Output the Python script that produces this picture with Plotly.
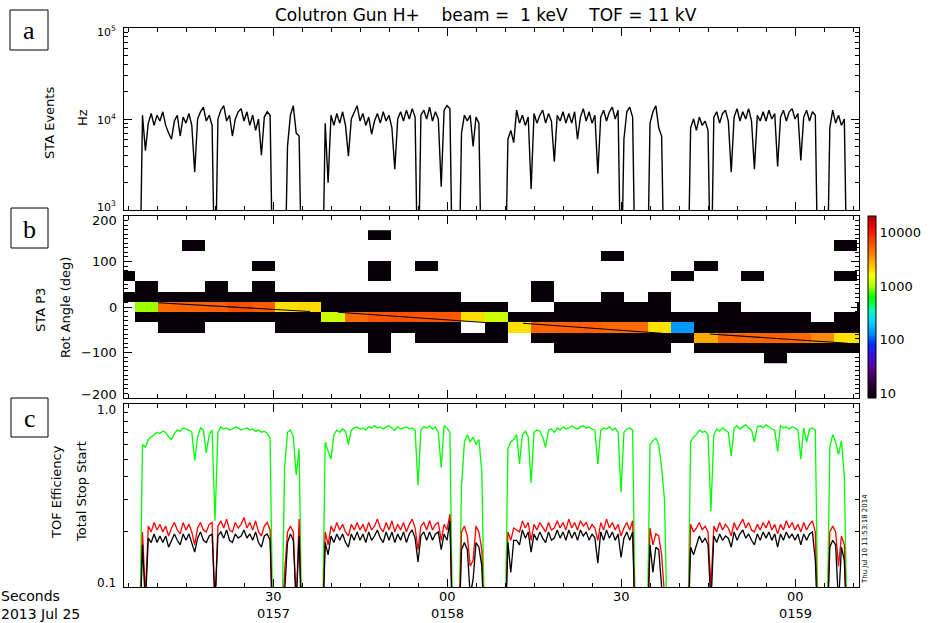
import math
import plotly.graph_objects as go

N = None
LA = 0.1    # kHz, beam off: below the 10^3 Hz floor
LC = 0.05   # efficiency, beam off: below the 0.1 floor
K = 9       # counts in the faint (black) spectrogram cells

# sample clock of the time series (seconds after 01:57:00, 2013 Jul 25)
SAMPLE_START_S = 4.5
SAMPLE_STEP_S = 0.5

# ---- panel a : STA events (kHz) ----
STA_EVENTS_KHZ = [
    N, N, N, N, N, LA, 11, 4.5, 9, 11.5,
    8.5, 11, 9.5, 12, 8.5, 7, 6, 9.5, 11, 6.5,
    10.5, 9, 11.5, 8.5, 2.6, 10, 12, 13.5, 9.5, 11,
    8.5, LA, 10, 12.5, 14, 9.5, 11, 6.5, 10, 12,
    13, 9.5, 12, 8.5, 11, 7.5, 10, 4, 10.5, 12,
    11, LA, N, N, N, LA, 5, 11, 14, 7,
    6.5, LA, N, N, N, N, N, N, LA, 9,
    2.0, 11, 8.5, 11.5, 9, 12, 8.5, 3.9, 10, 12,
    14, 9.5, 11.5, 8.5, 10.5, 6.8, 9.5, 11.5, 9, 12,
    9.5, 11, 8, 2.8, 10, 12, 9.5, 12.5, 10, 13,
    10.5, LA, 11, 12.5, 10, 13.5, 9.5, 12, 10, 1.8,
    12.5, 14, 13, LA, N, LA, 7, 11, 9.5, 11,
    5, 10.5, 9, LA, N, N, N, N, N, N,
    N, LA, 6, 7.5, 5.5, 12.5, 9, 11, 8.5, 10.5,
    1.7, 11.5, 9, 11, 12.5, 9, 11.5, 9.5, 3.4, 11,
    9.5, 12, 9, 11.5, 9, 12, 6, 10.5, 13, 9.5,
    12, 9, 11, 2.5, 10.5, 12.5, 9.5, 12, 13.5, 10,
    12.5, LA, 6, 12, 13.5, 10.5, LA, N, N, N,
    LA, 9, 12, 14, 8, 6.5, LA, N, N, N,
    N, N, N, N, LA, 8, 10, 7.5, 10.5, 8.5,
    9.5, 7.5, LA, 10.5, 12, 9, 11.5, 12.5, 9.5, 2.6,
    10.5, 13, 9.5, 12, 10, 13, 9.5, 2.8, 11, 9.5,
    12, 9.5, 12.5, 10, 11.5, 3, 10.5, 12.5, 9.5, 12,
    13, 10, 11.5, 3.5, 10.5, 12.5, 9.5, 12, 11, LA,
    N, N, LA, 8, 12.5, 9, 11, 8.5, 10, LA,
    N, N, N, N,
]

# ---- panel c : TOF efficiencies ----
EFF_START = [  # green
    N, N, N, N, N, LC, .60, .58, .64, .66,
    .68, .70, .69, .71, .70, .66, .64, .69, .72, .71,
    .74, .73, .72, .70, .49, .66, .74, .72, .54, .68,
    .72, .23, .70, .75, .73, .74, .72, .73, .75, .74,
    .72, .73, .74, .72, .73, .71, .72, .70, .71, .69,
    .65, LC, N, N, LC, .45, .70, .72, .66, .41,
    .57, LC, N, N, N, N, N, N, LC, .62,
    .55, .50, .68, .72, .70, .73, .71, .60, .72, .74,
    .75, .73, .74, .72, .75, .74, .76, .74, .75, .73,
    .75, .76, .74, .72, .75, .73, .74, .75, .73, .74,
    .72, .36, .72, .75, .74, .76, .73, .75, .70, .45,
    .76, .74, .70, LC, N, LC, .35, .62, .68, .62,
    .66, .60, .64, .43, LC, N, N, N, N, N,
    N, LC, .57, .62, .64, .68, .47, .68, .71, .66,
    .37, .70, .72, .71, .66, .58, .72, .73, .70, .74,
    .72, .75, .73, .74, .76, .74, .73, .75, .76, .74,
    .75, .73, .72, .47, .72, .74, .73, .75, .72, .74,
    .70, .33, .70, .73, .74, .72, LC, N, N, N,
    LC, .60, .63, .65, .60, .45, .30, LC, N, N,
    N, N, N, N, LC, .62, .66, .68, .72, .70,
    .71, .68, .26, .68, .73, .71, .74, .72, .70, .52,
    .74, .76, .73, .75, .77, .74, .72, .62, .75, .76,
    .74, .77, .75, .73, .72, .55, .76, .74, .75, .73,
    .75, .74, .72, .50, .74, .62, .73, .74, .72, LC,
    N, N, LC, .58, .68, .62, .53, .63, .40, LC,
    N, N, N, N,
]

EFF_STOP = [  # red
    N, N, N, N, N, LC, .20, .09, .215, .20,
    .225, .205, .22, .20, .215, .19, .21, .225, .205, .195,
    .225, .205, .22, .20, .17, .21, .225, .205, .20, .22,
    .225, .08, .215, .23, .21, .235, .205, .20, .225, .21,
    .22, .24, .21, .225, .205, .23, .20, .19, .215, .225,
    .205, LC, N, N, LC, .12, .20, .215, .20, .08,
    .235, LC, N, N, N, N, N, N, LC, .20,
    .17, .215, .20, .225, .205, .22, .20, .19, .22, .205,
    .225, .205, .22, .20, .225, .205, .215, .235, .21, .20,
    .225, .205, .23, .20, .22, .205, .225, .20, .22, .235,
    .21, .16, .215, .225, .205, .23, .205, .22, .225, .18,
    .22, .205, .25, LC, N, LC, .20, .215, .19, .13,
    .14, .215, .20, .16, LC, N, N, N, N, N,
    N, LC, .20, .18, .21, .205, .20, .23, .21, .225,
    .18, .22, .205, .225, .21, .20, .225, .205, .21, .23,
    .21, .225, .205, .235, .21, .225, .205, .23, .215, .225,
    .205, .22, .21, .18, .225, .205, .235, .21, .225, .205,
    .22, .19, .21, .225, .205, .23, LC, N, N, N,
    LC, .21, .17, .195, .19, .15, .09, LC, N, N,
    N, N, N, N, LC, .22, .20, .21, .225, .205,
    .215, .20, .10, .215, .20, .225, .205, .22, .21, .19,
    .225, .205, .22, .235, .21, .225, .205, .20, .22, .205,
    .225, .21, .23, .205, .22, .195, .22, .205, .23, .21,
    .225, .205, .22, .20, .225, .205, .22, .23, .20, LC,
    N, N, LC, .20, .215, .20, .13, .19, .17, LC,
    N, N, N, N,
]

EFF_TOTAL = [  # black
    N, N, N, N, N, LC, .17, .08, .185, .175,
    .195, .175, .19, .175, .19, .165, .18, .195, .18, .17,
    .195, .18, .195, .175, .155, .185, .20, .18, .175, .19,
    .195, .08, .19, .20, .185, .205, .18, .175, .195, .185,
    .19, .205, .185, .195, .18, .20, .175, .165, .19, .195,
    .18, LC, N, N, LC, .10, .175, .195, .18, .08,
    .19, LC, N, N, N, N, N, N, LC, .175,
    .15, .19, .175, .195, .18, .195, .175, .165, .195, .18,
    .20, .18, .195, .175, .20, .18, .19, .205, .185, .175,
    .20, .18, .20, .175, .195, .18, .20, .175, .195, .205,
    .185, .137, .19, .20, .18, .20, .18, .195, .20, .16,
    .195, .18, .23, LC, N, LC, .16, .175, .16, .09,
    .11, .175, .165, .13, LC, N, N, N, N, N,
    N, LC, .175, .12, .18, .18, .17, .205, .185, .20,
    .155, .195, .18, .20, .185, .175, .20, .18, .185, .205,
    .185, .20, .18, .205, .185, .20, .18, .205, .19, .20,
    .18, .195, .185, .135, .20, .18, .205, .185, .20, .18,
    .195, .145, .185, .20, .18, .20, LC, N, N, N,
    LC, .17, .12, .165, .16, .10, .08, LC, N, N,
    N, N, N, N, LC, .165, .15, .17, .19, .175,
    .185, .17, .08, .19, .175, .195, .18, .19, .185, .165,
    .20, .18, .195, .205, .185, .195, .18, .17, .195, .18,
    .20, .185, .20, .18, .195, .165, .195, .18, .20, .185,
    .195, .18, .195, .17, .195, .18, .195, .20, .14, LC,
    N, N, LC, .165, .18, .17, .08, .165, .14, LC,
    N, N, N, N,
]

# ---- panel b : STA P3 spectrogram (counts) ----
P3_TIME_EDGES_S = [2.19, 6.21, 10.23, 14.25, 18.27, 22.29, 26.31, 30.33, 34.35,
                   38.37, 42.39, 46.41, 50.43, 54.45, 58.47, 62.49, 66.51, 70.53,
                   74.55, 78.57, 82.59, 86.61, 90.63, 94.65, 98.67, 102.69, 106.71,
                   110.73, 114.75, 118.77, 122.79, 126.81, 130.83, 134.85]
P3_ANGLE_DEG = [-112.5, -90, -67.5, -45, -22.5, 0, 22.5, 45, 67.5, 90, 112.5, 135, 157.5]
P3_COUNTS = [
    # -112.5
    [N, N, N, N, N, N, N, N, N, N,  N, N, N, N, N, N, N, N, N, N,  N, N, N, N, N, N, N, N, K, N,  N, N, N],
    # -90
    [N, N, N, N, N, N, N, N, N, N,  N, K, N, N, N, N, N, N, N, K,  K, K, K, K, N, K, K, K, K, K,  K, K, K],
    # -67.5
    [N, N, N, N, N, N, N, N, N, N,  N, K, N, K, K, K, K, N, K, K,  K, K, K, K, K, 2900, 5300, 5300, 5500, 5300,  3700, 1900, 1900],
    # -45
    [N, N, K, K, N, N, N, K, K, K,  K, K, K, K, K, N, K, 1950, 5300, 5500,  5800, 5000, 5000, 1900, 136, K, K, K, K, K,  K, K, K],
    # -22.5
    [N, K, K, K, K, K, K, K, K, 1200,  5000, 6300, 6500, 6300, 6000, 1950, 1200, K, K, K,  K, K, K, K, K, K, K, K, K, K,  N, K, K],
    # 0
    [N, 950, 5000, 5300, 5500, 6600, 5800, 1900, 2050, K,  K, K, K, K, K, K, K, N, N, K,  K, K, K, K, N, N, K, N, N, N,  N, N, K],
    # 22.5
    [K, K, K, K, K, K, K, K, K, K,  K, K, K, K, K, N, N, N, K, N,  N, K, N, K, N, N, N, N, N, N,  N, N, N],
    # 45
    [N, K, N, N, K, N, K, N, N, N,  N, N, N, N, N, N, N, N, K, N,  N, N, N, N, N, N, N, N, N, N,  N, N, N],
    # 67.5
    [K, N, N, N, N, N, N, N, N, N,  N, K, N, N, N, N, N, N, N, N,  N, N, N, N, K, N, N, K, N, N,  N, K, N],
    # 90
    [N, N, N, N, N, N, K, N, N, N,  N, K, N, K, N, N, N, N, N, N,  N, N, N, N, N, K, N, N, N, N,  N, N, N],
    # 112.5
    [N, N, N, N, N, N, N, N, N, N,  N, N, N, N, N, N, N, N, N, N,  N, K, N, N, N, N, N, N, N, N,  N, N, N],
    # 135
    [N, N, N, K, N, N, N, N, N, N,  N, N, N, N, N, N, N, N, N, N,  N, N, N, N, N, N, N, N, N, N,  N, K, N],
    # 157.5
    [N, N, N, N, N, N, N, N, N, N,  N, K, N, N, N, N, N, N, N, N,  N, N, N, N, N, N, N, N, N, N,  N, N, N],
]

# rotation-angle trace over the spectrogram
ROT_T_S = [10.17, 36.38, N, 41.2, 66.55, N, 73.1, 97.07, N, 105.3, 129.1]
ROT_DEG = [9.5, -10.0, N, -11.6, -34.0, N, -35.8, -57.8, N, -59.3, -79.8]

# axis labels
X_MAJOR_S = [30, 60, 90, 120]
X_MAJOR_TEXT = ["30", "00", "30", "00"]
X_HOUR_TEXT = ["0157", "0158", "", "0159"]

# ------------------------------------------------------------------
t_s = [SAMPLE_START_S + SAMPLE_STEP_S * i for i in range(len(STA_EVENTS_KHZ))]
sta_hz = [None if v is None else v * 1000.0 for v in STA_EVENTS_KHZ]
z_log = [[None if v is None else math.log10(v) for v in row] for row in P3_COUNTS]

W, H = 930, 623
def PX(x):
    return x / W
def PY(y):
    return 1 - y / H

XR = [4.31, 131.03]
XDOM = [PX(124), PX(859)]
FONT = "DejaVu Sans"

fig = go.Figure()

fig.add_trace(go.Scatter(x=t_s, y=sta_hz, mode="lines", xaxis="x", yaxis="y",
                         line=dict(color="black", width=1.4), showlegend=False))

cscale = [
    [0.00, "#000000"], [0.08, "#2a0035"], [0.16, "#5a0090"], [0.24, "#3a10e0"],
    [0.30, "#0030ff"], [0.36, "#0098ff"], [0.43, "#00e0ff"], [0.49, "#00ffa0"],
    [0.55, "#00ff00"], [0.61, "#a0ff00"], [0.67, "#ffff00"], [0.74, "#ffb400"],
    [0.80, "#ff7800"], [0.85, "#ff5500"], [0.91, "#ff1800"], [0.96, "#e00000"],
    [1.00, "#b00000"],
]
fig.add_trace(go.Heatmap(
    x=P3_TIME_EDGES_S, y=P3_ANGLE_DEG, z=z_log, xaxis="x2", yaxis="y2",
    colorscale=cscale, zmin=0.91, zmax=4.31, hoverongaps=False,
    colorbar=dict(x=PX(868), xanchor="left", y=PY(307), yanchor="middle",
                  thickness=8, thicknessmode="pixels", len=182, lenmode="pixels",
                  xpad=0, ypad=0, outlinewidth=1, outlinecolor="black",
                  tickvals=[1, 2, 3, 4], ticktext=["10", "100", "1000", "10000"],
                  ticks="", tickfont=dict(family=FONT, size=13, color="black")),
))
fig.add_trace(go.Scatter(x=ROT_T_S, y=ROT_DEG, mode="lines", xaxis="x2", yaxis="y2",
                         line=dict(color="black", width=1.1), showlegend=False,
                         connectgaps=False))

fig.add_trace(go.Scatter(x=t_s, y=EFF_START, mode="lines", xaxis="x3", yaxis="y3",
                         line=dict(color="#00ff00", width=1.3), showlegend=False))
fig.add_trace(go.Scatter(x=t_s, y=EFF_STOP, mode="lines", xaxis="x3", yaxis="y3",
                         line=dict(color="#ff0000", width=1.3), showlegend=False))
fig.add_trace(go.Scatter(x=t_s, y=EFF_TOTAL, mode="lines", xaxis="x3", yaxis="y3",
                         line=dict(color="black", width=1.3), showlegend=False))

minor_x = [v for v in range(5, 131, 5) if v % 30 != 0]

def xaxis(anchor):
    return dict(domain=XDOM, range=XR, anchor=anchor, showgrid=False, zeroline=False,
                showline=True, linecolor="black", linewidth=1, mirror="allticks",
                ticks="inside", ticklen=8, tickwidth=1, tickcolor="black",
                tickmode="array", tickvals=X_MAJOR_S, showticklabels=False,
                minor=dict(tickmode="array", tickvals=minor_x, ticks="inside",
                           ticklen=4, tickwidth=1, tickcolor="black"))

def yaxis(anchor, dom, **kw):
    d = dict(domain=dom, anchor=anchor, showgrid=False, zeroline=False,
             showline=True, linecolor="black", linewidth=1, mirror="allticks",
             ticks="inside", ticklen=8, tickwidth=1, tickcolor="black",
             tickmode="array", showticklabels=False)
    d.update(kw)
    return d

fig.update_layout(
    width=W, height=H, autosize=False,
    margin=dict(l=0, r=0, t=0, b=0, autoexpand=False),
    paper_bgcolor="white", plot_bgcolor="white",
    showlegend=False,
    xaxis=xaxis("y"),
    xaxis2=xaxis("y2"),
    xaxis3=xaxis("y3"),
    yaxis=yaxis("x", [PY(210), PY(28)], type="log", range=[3, 5],
                tickvals=[1e3, 1e4, 1e5],
                minor=dict(tickmode="array",
                           tickvals=[2e3, 3e3, 4e3, 5e3, 6e3, 7e3, 8e3, 9e3,
                                     2e4, 3e4, 4e4, 5e4, 6e4, 7e4, 8e4, 9e4],
                           ticks="inside", ticklen=4, tickcolor="black")),
    yaxis2=yaxis("x2", [PY(398), PY(216)], range=[-200, 200],
                 tickvals=[-200, -100, 0, 100, 200],
                 minor=dict(tickmode="array",
                            tickvals=[v for v in range(-190, 200, 10) if v % 100 != 0],
                            ticks="inside", ticklen=4, tickcolor="black")),
    yaxis3=yaxis("x3", [PY(587), PY(404)], type="log", range=[-1, 0],
                 tickvals=[0.1, 1.0],
                 minor=dict(tickmode="array",
                            tickvals=[0.2, 0.3, 0.4, 0.5, 0.6, 0.7, 0.8, 0.9],
                            ticks="inside", ticklen=4, tickcolor="black")),
)

sp = "\u00a0"
title = ("Colutron Gun H+" + sp * 4 + "beam =" + sp * 2 + "1 keV" + sp * 4 + "TOF = 11" + sp + "kV")
ann = []
def A(text, x, y, size=13, angle=0, xanchor="center", yanchor="middle", family=FONT,
      xref="paper", yref="paper", pad=1):
    ann.append(dict(text=text, x=x, y=y, xref=xref, yref=yref, showarrow=False,
                    textangle=angle, xanchor=xanchor, yanchor=yanchor,
                    borderpad=pad,
                    font=dict(family=family, size=size, color="black")))

A(title, PX(486), PY(15), size=17)
A("STA Events", PX(50), PY(123), angle=-90)
A("Hz", PX(82), PY(118), angle=-90)
A("STA P3", PX(40), PY(310), angle=-90)
A("Rot Angle (deg)", PX(65), PY(308), angle=-90)
A("TOF Efficiency", PX(56), PY(492), angle=-90)
A("Total Stop Start", PX(81), PY(492), angle=-90)

# y tick labels; the end labels sit just inside the panel edges (IDL style)
A("10<sup>5</sup>", PX(118), PY(32), size=11, xanchor="right")
A("10<sup>4</sup>", PX(118), 4, size=11, xanchor="right", yref="y")
A("10<sup>3</sup>", PX(118), PY(206), size=11, xanchor="right")
A("200", PX(119), PY(220), size=13, xanchor="right")
for v, txt in [(100, "100"), (0, "0"), (-100, "\u2212100")]:
    A(txt, PX(119), v, size=13, xanchor="right", yref="y2")
A("\u2212200", PX(119), PY(394), size=13, xanchor="right")
A("1.0", PX(118), PY(410), size=12, xanchor="right")
A("0.1", PX(118), PY(583), size=12, xanchor="right")

# two-line time labels (seconds over HHMM), as in the tplot axis
A("Seconds", PX(0), PY(605), size=14, xanchor="left", yanchor="bottom", pad=0)
A("2013 Jul 25", PX(0), PY(605), size=14, xanchor="left", yanchor="top", pad=0)
for tv, top, bot in zip(X_MAJOR_S, X_MAJOR_TEXT, X_HOUR_TEXT):
    A(top, tv, PY(605), size=13, xref="x3", yanchor="bottom", pad=0)
    if bot:
        A(bot, tv, PY(605), size=13, xref="x3", yanchor="top", pad=0)
A("Thu Jul 10 11:53:18 2014", PX(865), PY(539), size=7, angle=-90)

shapes = []
for lab, (x0, y0, x1, y1) in {"a": (10, 10, 48, 50), "b": (11, 208, 48, 248),
                              "c": (11, 398, 48, 437)}.items():
    shapes.append(dict(type="rect", xref="paper", yref="paper",
                       x0=PX(x0), x1=PX(x1), y0=PY(y1), y1=PY(y0),
                       line=dict(color="black", width=1), fillcolor="white"))
    A(lab, PX((x0 + x1) / 2), PY((y0 + y1) / 2 + 1), size=26, family="Liberation Serif")

fig.update_layout(annotations=ann, shapes=shapes)
fig.write_html("out.html")
